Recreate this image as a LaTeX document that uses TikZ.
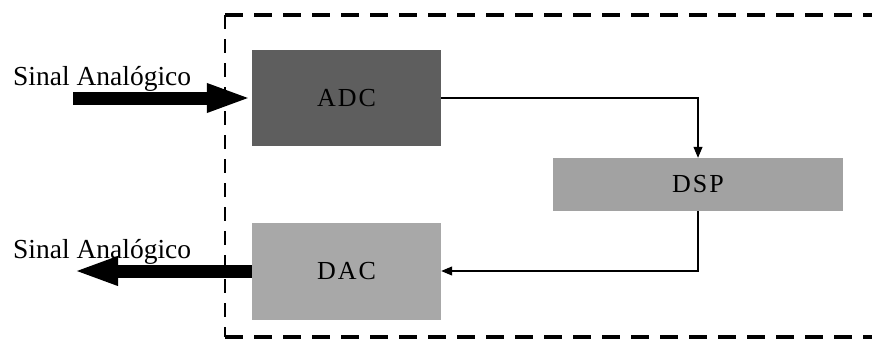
\documentclass[tikz,border=0pt]{standalone}
\usepackage{fontspec}
\setmainfont{Liberation Serif}
\usetikzlibrary{arrows.meta}
\definecolor{adcgray}{HTML}{5E5E5E}
\definecolor{dspgray}{HTML}{A2A2A2}
\definecolor{dacgray}{HTML}{A8A8A8}
% spaced capitals, set slightly below the block centre
\newcommand{\blocktext}[3]{\raisebox{-4pt}{#1\hspace{2pt}#2\hspace{2pt}#3}}
\tikzset{
  block/.style={draw=none, minimum width=189pt, inner sep=0pt, font=\fontsize{26}{28}\selectfont},
  sig/.style={line width=1.1pt, -{Triangle[length=11pt,width=9pt]}},
  fat/.style={line width=13pt, -{Triangle[length=45pt,width=26pt]}},
  lbl/.style={anchor=base west, inner sep=0pt, font=\fontsize{27.5}{30}\selectfont},
  frameh/.style={line width=4pt, dash pattern=on 18pt off 11pt},
  framev/.style={line width=2pt, dash pattern=on 14pt off 10pt}
}
\begin{document}
\begin{tikzpicture}[x=1pt,y=-1pt]
  \useasboundingbox (0,0) rectangle (872,340);
  % dashed enclosure, open on the right
  \draw[frameh] (225,15) -- (872,15);
  \draw[frameh] (225,337) -- (872,337);
  \draw[framev] (225,15) -- (225,337);
  % processing blocks
  \node[block, fill=adcgray, minimum height=96pt] (adc) at (346.5,98) {\blocktext ADC};
  \node[block, fill=dspgray, minimum width=290pt, minimum height=53pt] (dsp) at (698,184.5) {\blocktext DSP};
  \node[block, fill=dacgray, minimum height=97pt] (dac) at (346.5,271) {\blocktext DAC};
  % signal labels
  \node[lbl] (inlbl) at (13,85) {Sinal Analógico};
  \node[lbl] (outlbl) at (13,258) {Sinal Analógico};
  \coordinate (insrc) at (73,98);
  \coordinate (outdst) at (73,271);
  % analog input and output
  \draw[fat] (insrc) -- (adc.west);
  \draw[fat] (dac.west) -- (outdst);
  % digital path
  \draw[sig] (adc.east) -| (dsp.north);
  \draw[sig] (dsp.south) |- (dac.east);
\end{tikzpicture}
\end{document}
